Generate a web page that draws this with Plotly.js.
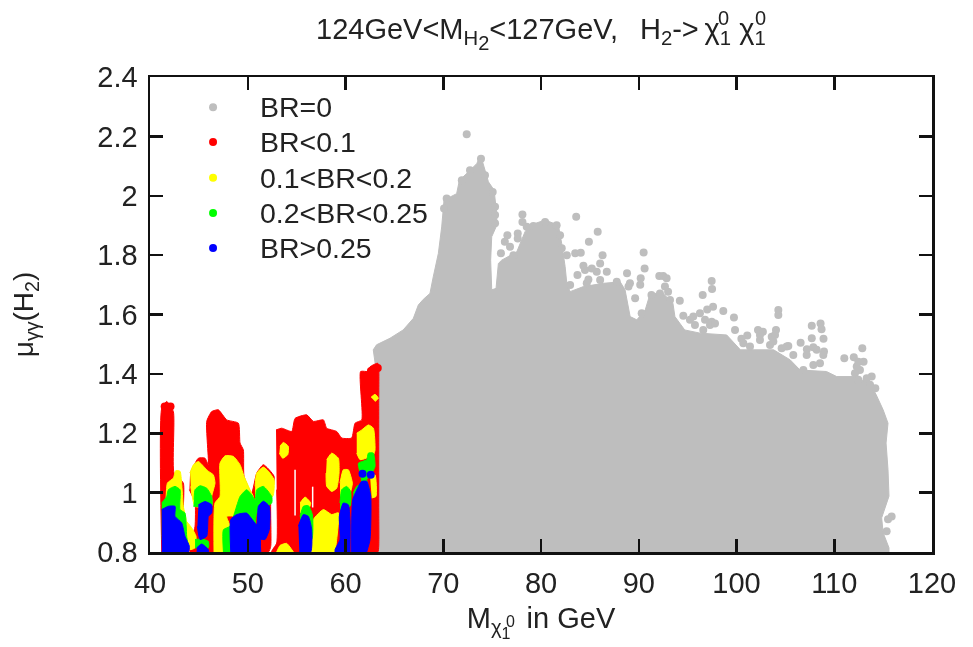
<!DOCTYPE html>
<html><head><meta charset="utf-8">
<script src="https://cdn.plot.ly/plotly-3.0.0.min.js"></script>
<style>html,body{margin:0;padding:0;background:#fff}#chart{filter:blur(0.5px)}</style></head>
<body><div id="chart" style="width:973px;height:647px"></div>
<script>
// Outline of each coloured mass of points; null separates blobs.
const greyX=[63.3,63.1,62.84,63.18,64.55,65.9,66.94,67.45,67.96,68.64,68.98,69.5,69.84,70.08,71.37,71.65,72.57,73.42,73.83,74.27,74.62,75.2,75.47,75.47,74.96,74.85,74.96,75.4,75.64,75.98,77.52,78.37,78.88,80.42,81.78,82.12,82.47,82.64,82.98,84.34,86.39,88.1,88.6,89.12,89.8,90.66,91.17,92.5,93.5,93.7,94.7,96.3,99,100.4,102.06,103.8,105.5,106.5,109.2,110.25,111.95,113.65,114.3,115,115.5,115.3,115.5,115.6,114.85,115,115.6,115.6];
const greyY=[0.8,1.42,1.481,1.498,1.52,1.548,1.587,1.632,1.651,1.671,1.727,1.806,1.895,1.985,2.007,2.052,2.08,2.108,2.136,2.086,2.047,2.019,1.94,1.9,1.862,1.783,1.683,1.688,1.772,1.783,1.811,1.879,1.901,1.918,1.901,1.839,1.761,1.705,1.677,1.694,1.705,1.71,1.683,1.593,1.582,1.615,1.671,1.671,1.637,1.593,1.548,1.537,1.531,1.481,1.481,1.481,1.447,1.413,1.408,1.391,1.391,1.369,1.329,1.279,1.234,1.167,1.077,0.988,0.915,0.865,0.814,0.8];
const greyDotX=[72.4,78.1,78.1,76.56,77.62,77.62,76.3,75.9,83.6,85.8,84.9,82.64,83.5,84.07,86.3,86.05,84.34,85.2,86.73,83.73,84.85,88.8,90.5,90.6,90.2,90.15,89.1,89.63,92.1,90.3,92.5,93,92.85,94.2,97.46,97.5,96.54,97.6,97,98.65,99.74,97.46,96.26,94.56,99.85,104.28,104.28,102.2,102.7,104.04,101.1,100.5,107.7,108.6,108.7,107.7,108.9,106.56,107.86,107.2,108.95,105.13,112.87,111.03,112,113,112.3,113.83,114.2,115.87,115.36,115.5,102.4,102.4,103.6,103.94,103.77,103.43,104.62,105.3,105.81,107.18,108.2,108.88,108.54,107.86,106.84,101.38,100.7,112.46,112.63,112.12,112.46,113.32,113.66,95.24,95.75,96.6,95.58,96.78,97.29,97.8,93.2,92.17,92.68,76.83,77.18,78.54,79.22,80.42,81.6,81.95,82.12,84.5,85.7,82.98,84.68,86.05,87.75,91.3,88.95,71.9,72.74,74.27,75.06,75.3,75.3,75.3,70.35,70.08,73.86];
const greyDotY=[2.207,1.937,1.912,1.867,1.873,1.856,1.845,1.806,1.929,1.879,1.845,1.8,1.806,1.808,1.8,1.772,1.764,1.755,1.744,1.733,1.718,1.739,1.809,1.755,1.722,1.7,1.705,1.655,1.73,1.604,1.73,1.677,1.722,1.646,1.713,1.686,1.666,1.626,1.617,1.612,1.59,1.576,1.604,1.596,1.548,1.615,1.598,1.548,1.542,1.548,1.529,1.518,1.562,1.57,1.55,1.52,1.518,1.505,1.49,1.483,1.475,1.492,1.486,1.453,1.456,1.441,1.425,1.391,1.352,0.92,0.87,0.91,1.531,1.514,1.525,1.531,1.509,1.497,1.486,1.494,1.464,1.464,1.481,1.464,1.436,1.43,1.413,1.492,1.503,1.441,1.413,1.402,1.38,1.385,1.363,1.582,1.565,1.548,1.593,1.582,1.565,1.57,1.649,1.671,1.694,1.828,1.8,1.896,1.898,1.912,1.901,1.867,1.823,1.75,1.744,1.699,1.705,1.716,1.71,1.666,1.694,2.052,2.086,2.069,2.013,1.963,1.935,1.907,1.991,1.957,2.125];

const redX=[41.2,41.2,41.71,42.39,42.46,43.41,43.41,44.1,43.75,null,44.1,44.95,45.63,45.97,45.8,46.31,46.99,47.85,49.04,49.21,49.55,49.62,50.4,50.92,51.6,52.69,52.35,52.35,52.11,44.1,44.61,44.61,44.03,null,52.89,53.47,54.5,54.84,56.03,56.71,57.74,58.08,59.1,59.61,60.63,60.98,61.66,61.55,62.34,62.51,63.3,63.4,63.4,63.4,63.4,63.4,63.3,52.45,52.96,52.96];
const redY=[0.8,1.284,1.307,1.273,1.066,1.032,0.909,0.853,0.8,null,1.066,1.116,1.116,1.094,1.24,1.273,1.279,1.245,1.234,1.167,1.144,1.055,0.999,1.066,1.094,1.055,0.965,0.819,0.8,0.8,0.887,0.965,1.01,null,1.211,1.217,1.206,1.25,1.262,1.24,1.245,1.217,1.206,1.184,1.184,1.234,1.245,1.408,1.408,1.424,1.436,1.42,1.3,1.1,0.95,0.82,0.8,0.8,0.83,1.01];
const redDotX=[41.4,41.9,43.5,44.0,51.8,52.5,53.0,62.8,63.5,41.5,42.1,63.3,62.6,61.9];
const redDotY=[0.795,0.795,0.795,0.795,0.795,0.795,0.795,0.795,0.795,1.29,1.29,1.42,1.41,1.39];

const yellowX=[41.64,41.64,41.78,42.39,42.63,43.07,43.24,43.41,43.69,43.69,null,43.75,44.27,44.71,44.61,44.1,43.75,null,44.1,44.44,44.95,45.63,45.97,46.48,46.65,46.31,46.31,44.61,44.17,null,46.55,46.65,47.16,47.16,47.68,48.53,49.21,49.62,50.23,50.57,50.75,47.85,48.19,47.51,null,50.75,50.92,51.6,52.11,52.69,52.55,50.75,null,53.3,53.64,54.15,54.09,53.58,53.23,null,58.08,58.59,59.27,59.34,59.1,58.59,58.08,58.01,null,59.44,59.78,60.29,60.7,60.46,59.44,null,61.15,61.66,62.34,62.85,63.02,62.85,61.49,61.15,null,62.61,63.02,63.36,63.02,null,62.51,63.02,63.12,62.68,null,55.35,55.86,56.44,56.2,55.35,null,56.54,56.71,57.74,58.59,59.27,59.1,58.93,null,52.96,53.3,53.98,54.67];
const yellowY=[0.887,0.976,1.032,1.049,1.074,1.072,1.032,0.954,0.909,0.842,null,0.903,0.881,0.853,0.814,0.808,0.853,null,1.066,1.094,1.105,1.083,1.072,1.06,1.032,0.987,0.954,0.954,1.021,null,0.8,0.965,0.987,1.099,1.124,1.122,1.094,1.055,1.01,0.987,0.92,0.92,0.887,0.8,null,1.021,1.066,1.086,1.072,1.044,0.987,0.976,null,1.156,1.169,1.156,1.128,1.116,1.133,null,1.111,1.133,1.116,1.066,1.015,1.004,1.021,1.066,null,1.032,1.077,1.077,1.032,0.999,0.987,null,1.2,1.211,1.228,1.217,1.144,1.127,1.111,1.133,null,1.321,1.331,1.318,1.307,null,1.055,1.06,0.987,0.982,null,0.965,0.985,0.965,0.943,0.932,null,0.8,0.909,0.943,0.926,0.932,0.842,0.8,null,0.8,0.822,0.829,0.8];
const yellowDotX=[47.0,53.7];
const yellowDotY=[0.795,0.795];

const greenX=[41.2,41.71,41.88,42.56,43.07,43.07,43.58,43.75,43.92,43.41,41.2,null,44.51,44.61,45.12,45.8,46.31,46.31,44.44,null,44.61,45.29,45.97,45.97,44.61,null,47.51,47.51,48.19,48.7,49.21,49.89,50.4,50.75,50.92,51.6,52.45,52.45,50.92,50.92,null,55.35,55.69,56.2,56.61,56.54,55.35,null,59.44,59.61,60.12,60.53,60.46,59.44,null,60.8,61.15,61.66,61.49,61.32,62.17,62.34,62.85,63.02,62.51,62.17,62.51,60.8];
const greenY=[0.965,0.987,1.01,1.021,1.01,0.943,0.931,0.853,0.808,0.808,0.842,null,0.976,1.01,1.023,1.015,0.987,0.954,0.954,null,0.842,0.844,0.836,0.814,0.814,null,0.8,0.875,0.887,0.937,0.987,1.01,0.993,0.976,1.01,1.021,0.987,0.965,0.931,0.8,null,0.92,0.954,0.956,0.926,0.842,0.842,null,0.965,1.01,1.021,1.004,0.954,0.943,null,0.999,1.021,1.032,1.066,1.099,1.111,1.133,1.133,1.088,1.055,1.044,0.987,0.976];
const greenDotX=[45.45];
const greenDotY=[0.795];

const blueX=[41.2,41.88,42.56,42.56,43.24,43.58,44.03,43.92,41.2,null,44.95,45.63,46.31,46.31,45.97,45.8,45.12,44.85,null,44.78,45.29,45.97,45.97,44.78,null,48.26,48.26,48.87,49.89,50.92,51.09,51.6,52.21,52.21,51.77,51.33,51.33,null,55.18,55.69,56.2,56.54,56.44,55.28,null,58.93,58.93,59.44,59.37,59.78,60.29,60.46,60.46,null,60.63,60.74,61.32,61.66,62.17,62.58,62.51,62.17];
const blueY=[0.943,0.954,0.954,0.92,0.898,0.853,0.819,0.8,0.8,null,0.959,0.97,0.959,0.931,0.92,0.853,0.842,0.887,null,0.814,0.827,0.808,0.8,0.8,null,0.8,0.909,0.926,0.931,0.892,0.954,0.971,0.954,0.876,0.842,0.842,0.8,null,0.887,0.926,0.92,0.876,0.8,0.8,null,0.8,0.808,0.842,0.92,0.965,0.959,0.909,0.8,null,0.8,0.976,1.021,1.038,1.038,0.987,0.842,0.8];
const blueDotX=[61.74,62.58,41.7,42.4,43.1,48.9,49.9,50.8,55.7,59.6,61.1];
const blueDotY=[1.064,1.06,0.795,0.795,0.795,0.795,0.795,0.795,0.795,0.795,0.795];

const gapX=[54.84,54.84,null,56.64,56.64];
const gapY=[1.077,0.923,null,1.02,0.95];

const legendNames=["BR=0","BR<0.1","0.1<BR<0.2","0.2<BR<0.25","BR>0.25"];
const colours=["#bebebe","#ff0000","#ffff00","#00ff00","#0000ff"];
const legendKeyY=[2.298,2.181,2.061,1.942,1.824];
const xTicks=[40,50,60,70,80,90,100,110,120];
const xTickText=["40","50","60","70","80","90","100","110","120"];
const yTicks=[0.8,1,1.2,1.4,1.6,1.8,2,2.2,2.4];
const yTickText=["0.8","1","1.2","1.4","1.6","1.8","2","2.2","2.4"];

const mass=(x,y,c,shape)=>({x,y,type:"scatter",mode:"lines",fill:"toself",fillcolor:c,line:{color:c,width:1,shape:shape||"linear",smoothing:0.5},showlegend:false,hoverinfo:"skip"});
const dots=(x,y,c,name)=>({x,y,name,type:"scatter",mode:"markers",cliponaxis:false,marker:{color:c,size:8},showlegend:false});
const traces=[
 mass(greyX,greyY,colours[0]),
 dots(greyDotX,greyDotY,colours[0],legendNames[0]),
 mass(redX,redY,colours[1],"spline"),
 dots(redDotX,redDotY,colours[1],legendNames[1]),
 mass(yellowX,yellowY,colours[2],"spline"),
 dots(yellowDotX,yellowDotY,colours[2],legendNames[2]),
 mass(greenX,greenY,colours[3],"spline"),
 dots(greenDotX,greenDotY,colours[3],legendNames[3]),
 mass(blueX,blueY,colours[4],"spline"),
 dots(blueDotX,blueDotY,colours[4],legendNames[4]),
 {x:gapX,y:gapY,type:"scatter",mode:"lines",line:{color:"#fff",width:1.5},showlegend:false,hoverinfo:"skip"},
 {x:legendKeyY.map(()=>46.45),y:legendKeyY,type:"scatter",mode:"markers",marker:{color:colours,size:8},showlegend:false,hoverinfo:"skip"}
];
const F="Liberation Sans, Arial, sans-serif";
const axis={showgrid:false,zeroline:false,showline:true,linecolor:"#111",linewidth:2.5,mirror:"ticks",ticks:"inside",ticklen:13,tickwidth:2.5,tickcolor:"#111",layer:"above traces",tickfont:{family:F,size:29,color:"#222"},ticklabelstandoff:4};
const sup=(px,py,s)=>({xref:"paper",yref:"paper",x:(px-150)/782,y:(552.5-py)/476,xanchor:"center",yanchor:"middle",text:"0",showarrow:false,font:{family:F,size:s,color:"#222"}});
const subSub='<sub><span style="font-size:20px">';
const layout={
 width:973,height:647,paper_bgcolor:"#fff",plot_bgcolor:"#fff",
 margin:{l:150,r:41,t:76.5,b:94.5,pad:0},
 font:{family:F,color:"#222"},
 title:{text:'124GeV<M<sub>H'+subSub+'2</span></sub></sub><127GeV,  \u2009H<sub>2</sub>->\u2009χ<sub>1</sub> χ<sub>1</sub>',font:{family:F,size:29,color:"#222"},x:316/973,xanchor:"left",y:0.955,yanchor:"middle",xref:"container",yref:"container"},
 xaxis:{...axis,range:[40,120],tickmode:"array",tickvals:xTicks,ticktext:xTickText,title:{text:'M<sub>χ<sub><span style="font-size:16px">1</span></sub></sub>\u00a0 in GeV',font:{family:F,size:29,color:"#222"},standoff:10}},
 yaxis:{...axis,range:[0.8,2.4],tickmode:"array",tickvals:yTicks,ticktext:yTickText,title:{text:"μ<sub>γγ</sub>(H<sub>2</sub>)",font:{family:F,size:28,color:"#222"},standoff:56}},
 annotations:[
  sup(723,17,20),sup(760,17,20),sup(510,622,16),
  ...legendNames.map((t,i)=>({xref:"x",yref:"y",x:51.05,y:legendKeyY[i],text:t.replace(/</g,"&lt;").replace(/>/g,"&gt;"),xanchor:"left",yanchor:"middle",showarrow:false,font:{family:F,size:28.5,color:"#222"}}))
 ],
 showlegend:false
};
Plotly.newPlot("chart",traces,layout,{displayModeBar:false,staticPlot:true});
</script></body></html>
